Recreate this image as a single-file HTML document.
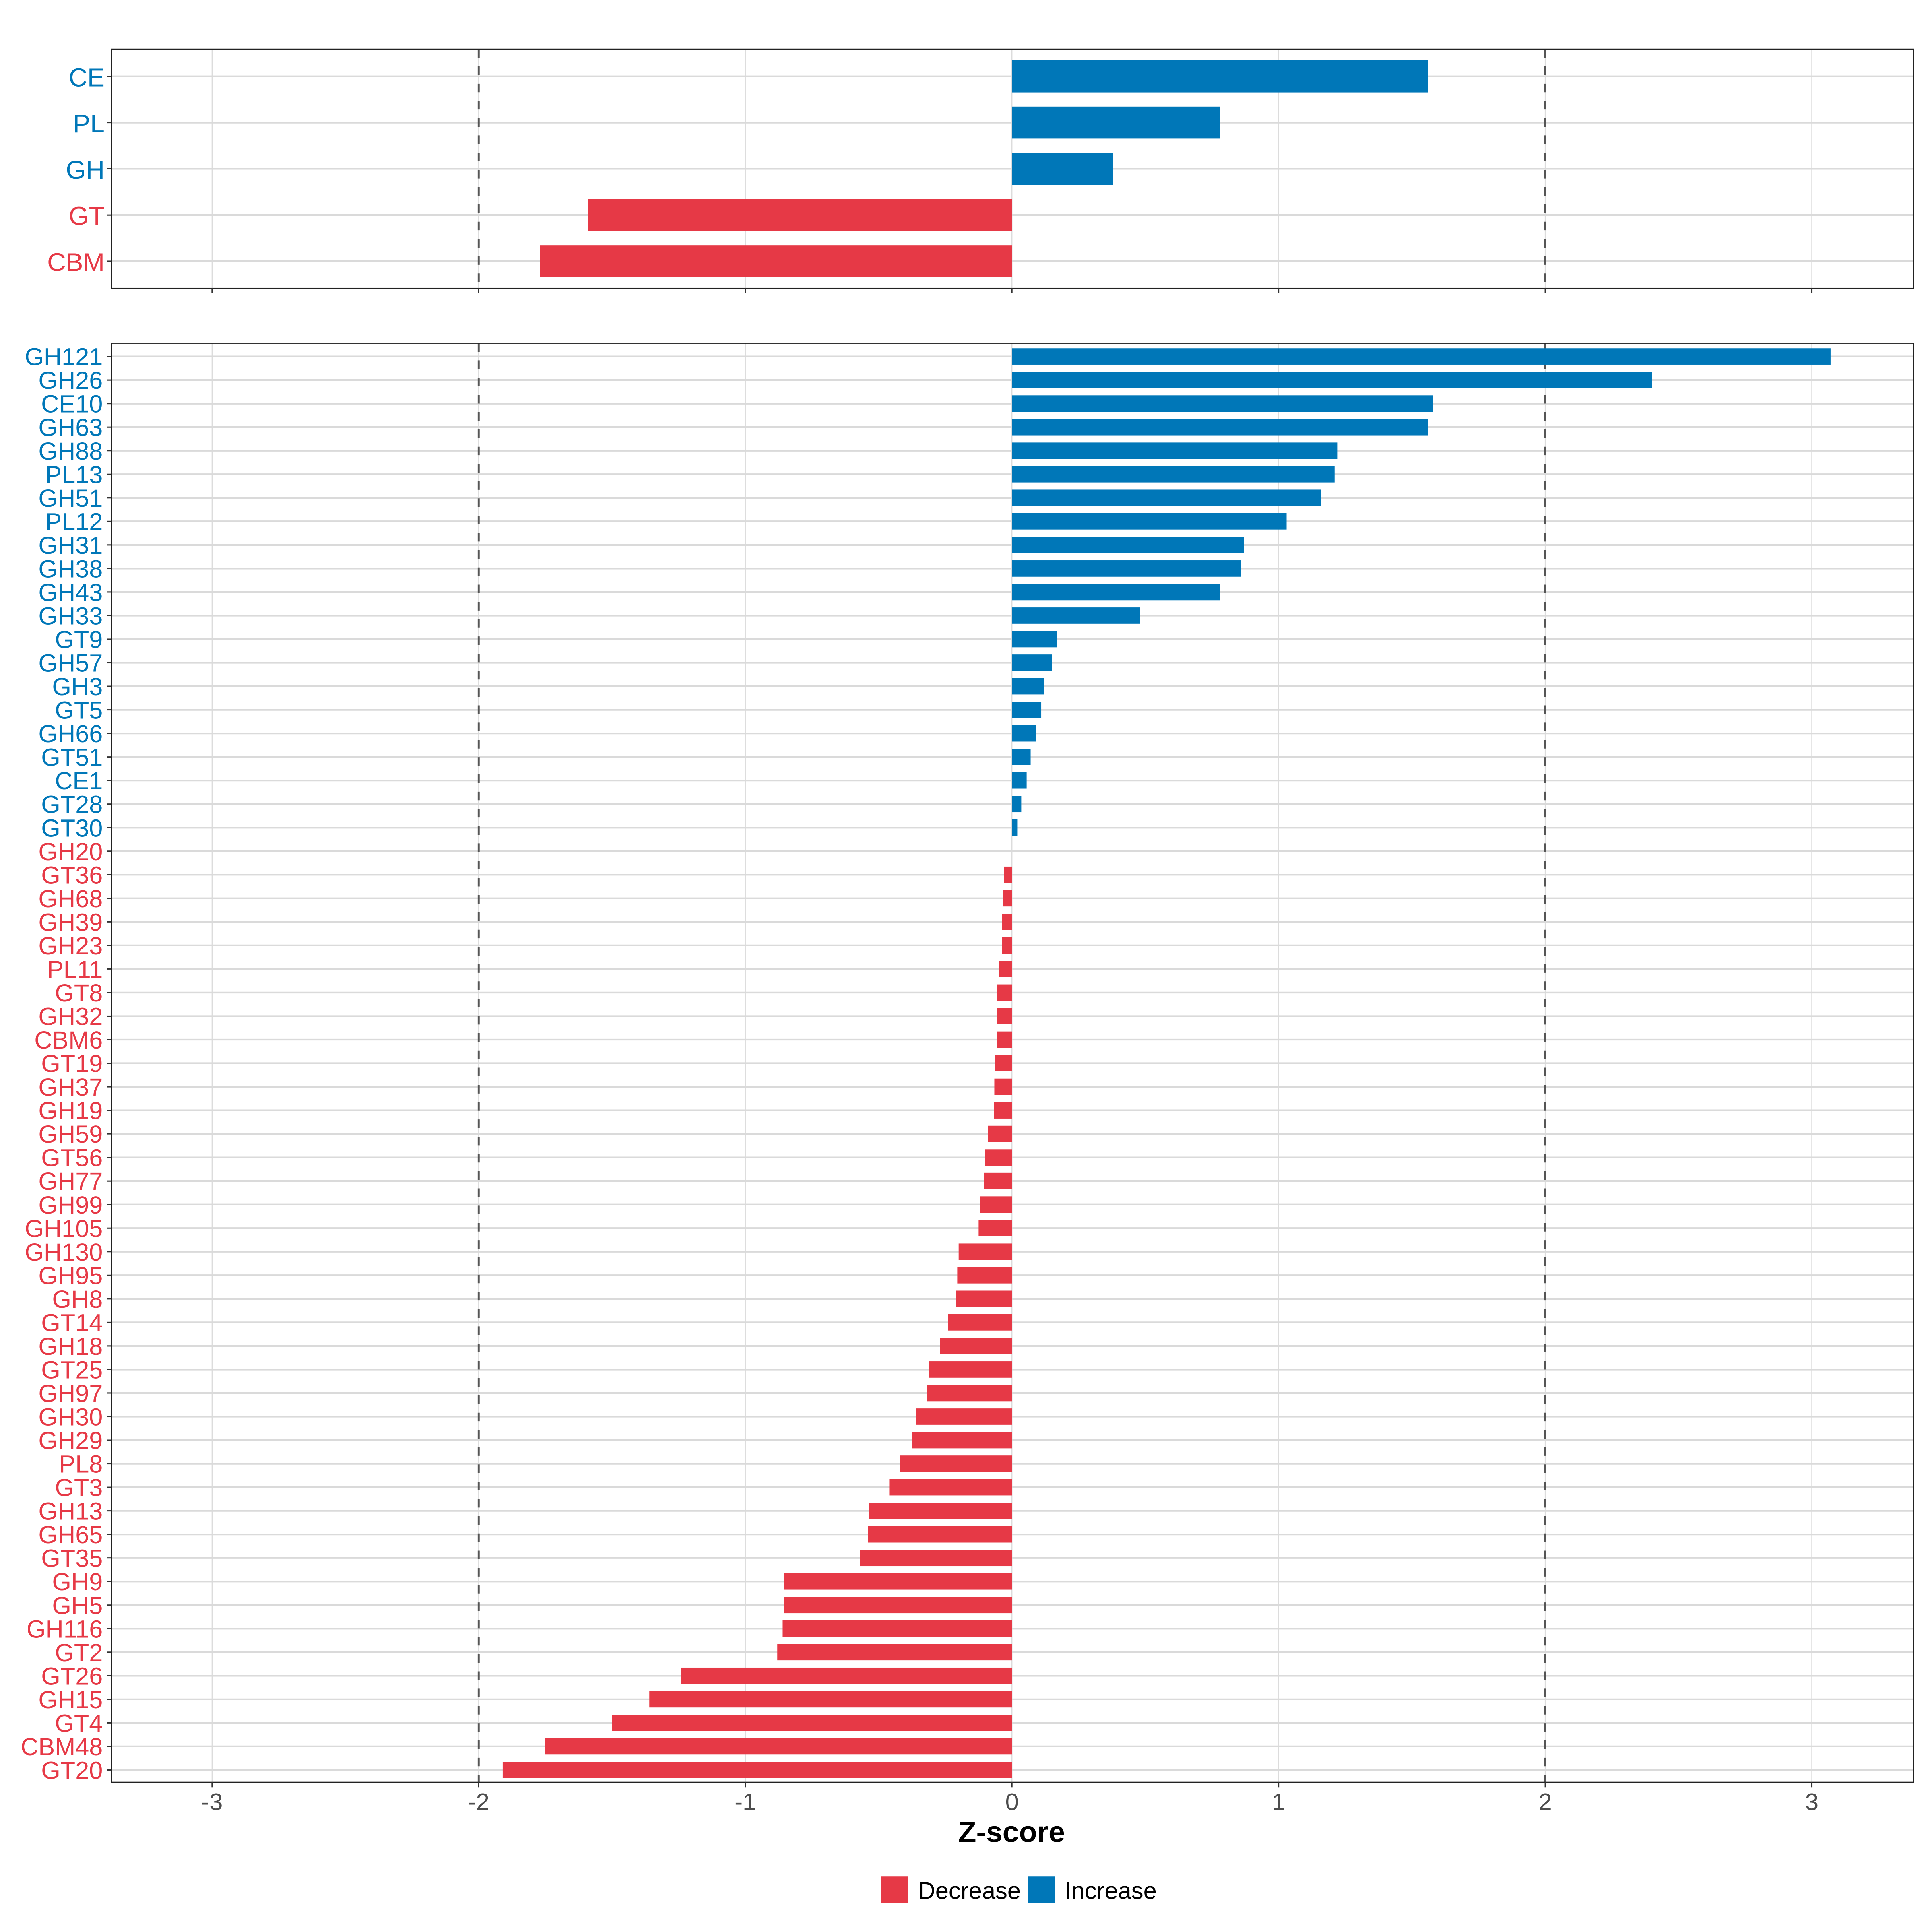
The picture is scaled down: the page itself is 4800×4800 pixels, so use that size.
<!DOCTYPE html>
<html><head><meta charset="utf-8"><style>
html,body{margin:0;padding:0;background:#fff;}
svg{display:block;font-family:"Liberation Sans",sans-serif;}
</style></head><body>
<svg id="chart" width="4800" height="4800" viewBox="0 0 1568 1568" xmlns="http://www.w3.org/2000/svg"></svg>
<script>
const topCats = ["CE","PL","GH","GT","CBM"];
const topVals = [1.56,0.78,0.38,-1.59,-1.77];
const botCats = ["GH121","GH26","CE10","GH63","GH88","PL13","GH51","PL12","GH31","GH38","GH43","GH33","GT9","GH57","GH3","GT5","GH66","GT51","CE1","GT28","GT30","GH20","GT36","GH68","GH39","GH23","PL11","GT8","GH32","CBM6","GT19","GH37","GH19","GH59","GT56","GH77","GH99","GH105","GH130","GH95","GH8","GT14","GH18","GT25","GH97","GH30","GH29","PL8","GT3","GH13","GH65","GT35","GH9","GH5","GH116","GT2","GT26","GH15","GT4","CBM48","GT20"];
const botVals = [3.07,2.40,1.58,1.56,1.22,1.21,1.16,1.03,0.87,0.86,0.78,0.48,0.17,0.15,0.12,0.11,0.09,0.07,0.055,0.035,0.02,0,-0.03,-0.035,-0.037,-0.038,-0.05,-0.055,-0.056,-0.057,-0.065,-0.066,-0.067,-0.09,-0.10,-0.105,-0.12,-0.125,-0.20,-0.205,-0.21,-0.24,-0.27,-0.31,-0.32,-0.36,-0.375,-0.42,-0.46,-0.535,-0.54,-0.57,-0.855,-0.856,-0.86,-0.88,-1.24,-1.36,-1.50,-1.75,-1.91];
const xTicks = [-3,-2,-1,0,1,2,3];
const xTickLabels = ["-3","-2","-1","0","1","2","3"];
const thresholds = [-2,2];

const RED="#e63946", BLUE="#0077b8";
const svg=document.getElementById('chart');
const NS="http://www.w3.org/2000/svg";
const L=90.4, R=1553;
function xs(v){return 821.3+v*216.4;}
function mk(tag,attrs,parent){const e=document.createElementNS(NS,tag);for(const k in attrs)e.setAttribute(k,attrs[k]);(parent||svg).appendChild(e);return e;}

function panel(name,top,bottom,cats,vals,y0,step,barH,fs,dy,lx,showLabels){
  const g=mk('g',{});
  
  
  xTicks.forEach(t=>{const l=mk('line',{x1:xs(t),x2:xs(t),y1:top,y2:bottom,stroke:'#dcdcdc','stroke-width':0.8},g);
    });
  cats.forEach((c,i)=>{const y=y0+i*step;
    const l=mk('line',{x1:L,x2:R,y1:y,y2:y,stroke:'#dadada','stroke-width':1.4},g);
    });
  thresholds.forEach(t=>{const l=mk('line',{x1:xs(t),x2:xs(t),y1:top,y2:bottom,stroke:'#555','stroke-width':1.6,'stroke-dasharray':'7 7'},g);
    });
  cats.forEach((c,i)=>{const y=y0+i*step;const v=vals[i];const col=v>0?BLUE:RED;
    const x1=Math.min(xs(0),xs(v)), w=Math.abs(xs(v)-xs(0));
    if(w>0){const b=mk('rect',{x:x1,y:y-barH/2,width:w,height:barH,fill:col},g);
      }
    const tk=mk('line',{x1:L-3.6,x2:L,y1:y,y2:y,stroke:'#333','stroke-width':1},g);
    
    const tx=mk('text',{x:lx,y:y+dy,'text-anchor':'end','font-size':fs,fill:col},g);
    tx.textContent=c;
    
  });
  const fr=mk('rect',{x:L,y:top,width:R-L,height:bottom-top,fill:'none',stroke:'#222','stroke-width':0.9},g);
  
  xTicks.forEach((t,i)=>{const l=mk('line',{x1:xs(t),x2:xs(t),y1:bottom,y2:bottom+4,stroke:'#333','stroke-width':1},g);
    
    if(showLabels){const tx=mk('text',{x:xs(t),y:bottom+22.5,'text-anchor':'middle','font-size':19.5,fill:'#4d4d4d'},g);
      tx.textContent=xTickLabels[i];}
  });
}
panel('summary-panel',39.9,234,topCats,topVals,62,37.5,26,21,8,L-5.5,false);
panel('detail-panel',278.5,1446.5,botCats,botVals,289.3,19.12,13.3,20,7.2,L-7,true);

let t=mk('text',{x:821,y:1495,'text-anchor':'middle','font-size':24,'font-weight':'bold',fill:'#000'});
t.textContent='Z-score';
const lg=mk('g',{});
let r=mk('rect',{x:715,y:1523,width:22,height:21.5,fill:RED},lg);
t=mk('text',{x:745,y:1541,'font-size':19.5,fill:'#000'},lg);t.textContent='Decrease';
r=mk('rect',{x:834,y:1523,width:22,height:21.5,fill:BLUE},lg);
t=mk('text',{x:864,y:1541,'font-size':19.5,fill:'#000'},lg);t.textContent='Increase';
</script>
</body></html>
